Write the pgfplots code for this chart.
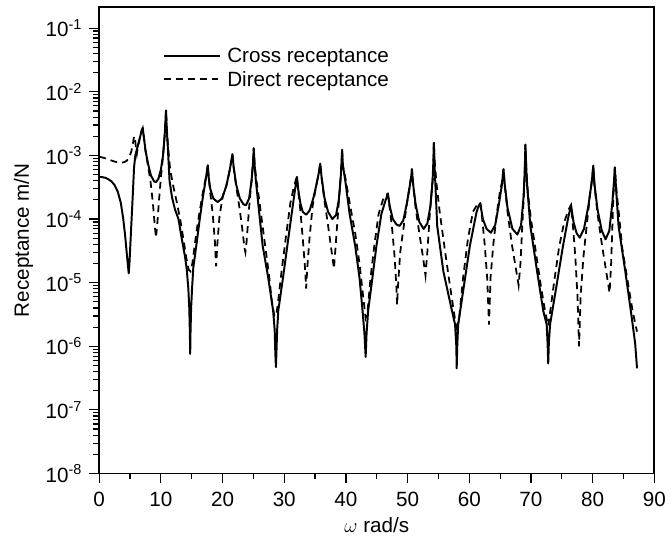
\documentclass[border=0pt]{standalone}
\usepackage{pgfplots}
\pgfplotsset{compat=1.18}
\usepackage{fontspec}
\setmainfont{Liberation Sans}

\pgfplotstableread{
w v
0.0 4.6e-4
0.5 4.55e-4
1.0 4.45e-4
1.5 4.2e-4
2.0 3.9e-4
2.5 3.4e-4
3.0 2.7e-4
3.5 1.8e-4
3.9 1.0e-4
4.2 5.5e-5
4.45 3e-5
4.65 1.9e-5
4.78 1.4e-5
4.9 2e-5
5.05 4e-5
5.25 1e-4
5.45 2.5e-4
5.65 6.5e-4
5.85 1e-3
6.2 1.35e-3
6.6 1.9e-3
6.9 2.5e-3
7.05 2.7e-3
7.25 1.9e-3
7.5 1.2e-3
7.9 7.5e-4
8.4 4.8e-4
8.9 3.9e-4
9.2 3.8e-4
9.6 4.3e-4
10.0 6e-4
10.35 1e-3
10.6 2e-3
10.75 3.6e-3
10.83 5.1e-3
10.95 2.6e-3
11.15 1.2e-3
11.4 4e-4
11.8 2.2e-4
12.3 1.4e-4
12.85 1e-4
13.4 4.8e-5
13.9 2.6e-5
14.2 1.6e-5
14.45 8e-6
14.6 4e-6
14.7 1.6e-6
14.75 7.6e-7
14.8 1.6e-6
14.9 4e-6
15.05 8e-6
15.25 1.7e-5
15.75 3.9e-5
16.3 1e-4
16.8 2.2e-4
17.2 3.8e-4
17.45 5.5e-4
17.6 7e-4
17.75 4.5e-4
18.0 3e-4
18.5 2.1e-4
19.2 1.85e-4
19.9 2.1e-4
20.6 3.3e-4
21.1 5.5e-4
21.45 8.5e-4
21.6 1.05e-3
21.8 6.5e-4
22.2 3.5e-4
22.8 2.1e-4
23.4 1.7e-4
23.8 1.65e-4
24.3 2.1e-4
24.7 4e-4
24.95 8e-4
25.05 1.3e-3
25.2 7e-4
25.4 4e-4
25.96 1.2e-4
26.5 3.8e-5
27.4 1.2e-5
28.2 3.6e-6
28.45 1.8e-6
28.55 8e-7
28.65 4.7e-7
28.75 9e-7
28.85 1.8e-6
29.03 3.6e-6
29.8 1.2e-5
30.5 3.8e-5
31.2 1.2e-4
31.6 2.3e-4
31.9 3.6e-4
32.06 4.6e-4
32.25 3e-4
32.6 1.8e-4
33.0 1.3e-4
33.55 1.17e-4
34.1 1.35e-4
34.7 2.1e-4
35.2 3.4e-4
35.6 5.3e-4
35.83 7.4e-4
36.05 4.6e-4
36.5 2.2e-4
37.1 1.3e-4
37.8 1e-4
38.4 1.15e-4
38.85 2e-4
39.15 4.5e-4
39.3 8e-4
39.38 1.23e-3
39.5 7e-4
39.9 4e-4
40.6 1.2e-4
41.5 3.8e-5
42.2 1.2e-5
42.7 3.6e-6
43.0 1.6e-6
43.2 6.8e-7
43.35 1.6e-6
43.6 3.6e-6
44.3 1.2e-5
44.95 3.8e-5
45.75 1.2e-4
46.3 1.8e-4
46.6 2.2e-4
46.8 2.5e-4
47.1 1.6e-4
47.6 1e-4
48.2 8.2e-5
48.7 7.8e-5
49.3 9.5e-5
49.9 1.8e-4
50.35 3.3e-4
50.6 4.8e-4
50.7 6.1e-4
50.9 3.5e-4
51.3 1.7e-4
51.9 9e-5
52.6 7e-5
53.2 8.5e-5
53.7 1.6e-4
54.05 4e-4
54.2 9e-4
54.25 1.58e-3
54.4 6e-4
54.8 7.8e-5
55.8 1.5e-5
57.2 3.6e-6
57.7 2.2e-6
57.9 1e-6
57.96 4.5e-7
58.05 1e-6
58.2 2.2e-6
59.0 7.3e-6
60.1 3.8e-5
61.15 1.25e-4
61.5 1.6e-4
61.78 1.78e-4
62.2 1e-4
62.8 7e-5
63.5 6.1e-5
64.2 8e-5
64.8 1.7e-4
65.3 3.5e-4
65.55 6.1e-4
65.75 3.5e-4
66.2 1.5e-4
67.0 7e-5
67.8 5.7e-5
68.4 8e-5
68.8 2.2e-4
69.0 6e-4
69.1 1.48e-3
69.25 6e-4
69.4 3.2e-4
69.9 7.8e-5
71.0 1.5e-5
72.0 3.6e-6
72.55 2.2e-6
72.7 1.1e-6
72.8 5.4e-7
72.9 1.1e-6
73.1 2.2e-6
74.15 9e-6
75.2 3.8e-5
76.0 1e-4
76.5 1.66e-4
76.9 9e-5
77.4 6e-5
77.9 5.1e-5
78.6 7e-5
79.3 1.6e-4
79.8 3.5e-4
80.0 5.2e-4
80.1 6.9e-4
80.3 3.5e-4
80.8 1.4e-4
81.5 6.5e-5
82.1 4.8e-5
82.7 6.5e-5
83.2 1.8e-4
83.45 3.8e-4
83.6 6.5e-4
83.8 3e-4
84.2 7.8e-5
85.3 1.5e-5
86.35 2.8e-6
86.9 1.1e-6
87.2 4.5e-7
}\crosstable

\pgfplotstableread{
w v
0.0 9.5e-4
0.5 9.3e-4
1.0 9e-4
1.5 8.6e-4
2.0 8.3e-4
2.5 8e-4
3.0 7.8e-4
3.5 7.7e-4
4.0 7.8e-4
4.5 8.3e-4
4.9 9.5e-4
5.2 1.15e-3
5.45 1.5e-3
5.65 2e-3
5.8 1.9e-3
5.95 1.3e-3
6.1 1.05e-3
6.3 1.4e-3
6.6 1.9e-3
6.9 2.5e-3
7.05 2.7e-3
7.25 1.9e-3
7.5 1.2e-3
7.9 7e-4
8.3 4e-4
8.7 1.8e-4
9.0 8e-5
9.2 5.1e-5
9.4 8e-5
9.7 2e-4
10.0 4.5e-4
10.35 1e-3
10.6 2e-3
10.75 3.6e-3
10.83 5.1e-3
10.95 2.8e-3
11.15 1.4e-3
11.5 6e-4
12.0 3.3e-4
12.6 1.8e-4
13.2 9e-5
13.7 4.5e-5
14.1 2.5e-5
14.5 1.6e-5
14.8 1.5e-5
15.1 2e-5
15.5 4e-5
16.0 9e-5
16.6 2e-4
17.0 3.3e-4
17.4 5e-4
17.6 7e-4
17.75 4.5e-4
18.0 2.6e-4
18.4 1.2e-4
18.75 4.5e-5
18.95 1.8e-5
19.15 4e-5
19.5 1.1e-4
20.0 2.2e-4
20.6 3.3e-4
21.1 5.5e-4
21.45 8.5e-4
21.6 1.05e-3
21.8 6.5e-4
22.2 3.3e-4
22.7 1.6e-4
23.2 7e-5
23.55 3.5e-5
23.7 3e-5
23.9 4.5e-5
24.3 1.5e-4
24.7 4e-4
24.95 8e-4
25.05 1.3e-3
25.2 7e-4
25.5 4e-4
26.0 1.8e-4
26.9 3.8e-5
27.5 1.4e-5
28.0 5e-6
28.4 3e-6
28.7 3e-6
29.0 5e-6
29.6 1.6e-5
30.3 5.5e-5
31.0 1.8e-4
31.5 3e-4
31.9 4.2e-4
32.06 4.6e-4
32.25 2.8e-4
32.6 1.4e-4
33.0 5e-5
33.35 1.8e-5
33.55 8.1e-6
33.75 1.8e-5
34.1 5e-5
34.6 1.6e-4
35.2 3.4e-4
35.6 5.3e-4
35.83 7.4e-4
36.05 4.5e-4
36.5 2e-4
37.1 8e-5
37.7 3e-5
38.06 1.66e-5
38.35 4e-5
38.8 1.6e-4
39.15 4.5e-4
39.3 8e-4
39.38 1.23e-3
39.5 7e-4
39.9 4.5e-4
40.6 1.8e-4
41.5 6e-5
42.2 2e-5
42.8 6e-6
43.2 2.8e-6
43.5 3.5e-6
44.0 1.2e-5
44.6 3.8e-5
45.3 1.2e-4
46.0 2e-4
46.5 2.4e-4
46.8 2.5e-4
47.1 1.5e-4
47.5 7e-5
47.9 2.5e-5
48.2 8e-6
48.3 4.5e-6
48.45 9e-6
48.8 3e-5
49.4 8e-5
49.9 1.8e-4
50.35 3.3e-4
50.6 4.8e-4
50.7 6.1e-4
50.9 3.4e-4
51.3 1.5e-4
51.9 6e-5
52.5 2.5e-5
52.9 1.3e-5
53.2 3e-5
53.6 1.2e-4
54.05 4e-4
54.2 9e-4
54.25 1.58e-3
54.4 8e-4
54.7 3.5e-4
55.2 1.3e-4
56.0 3.5e-5
56.8 1e-5
57.5 3.5e-6
58.0 1.7e-6
58.4 3e-6
59.0 1.2e-5
59.8 5e-5
60.6 1.3e-4
61.3 1.7e-4
61.78 1.78e-4
62.1 1e-4
62.5 4e-5
62.9 1.2e-5
63.2 2.2e-6
63.45 1.2e-5
63.9 4e-5
64.5 1.3e-4
65.0 2.8e-4
65.3 3.8e-4
65.55 6.1e-4
65.75 3.4e-4
66.2 1.3e-4
66.9 4e-5
67.5 1.8e-5
68.0 9.1e-6
68.3 2e-5
68.6 8e-5
68.9 3e-4
69.0 6e-4
69.1 1.48e-3
69.25 6e-4
69.5 2.6e-4
70.0 1e-4
70.8 3e-5
71.6 9e-6
72.3 3.5e-6
72.8 2.1e-6
73.2 4e-6
73.8 1.1e-5
74.6 3.8e-5
75.4 9e-5
76.1 1.4e-4
76.5 1.66e-4
76.8 8e-5
77.2 2.5e-5
77.55 6e-6
77.8 1e-6
78.05 6e-6
78.5 2.5e-5
79.1 9e-5
79.6 2.5e-4
79.9 4.2e-4
80.1 6.9e-4
80.3 3.4e-4
80.8 1.2e-4
81.5 4e-5
82.2 1.5e-5
82.75 6.9e-6
83.0 2e-5
83.3 1.5e-4
83.45 3.5e-4
83.6 6.5e-4
83.8 3.3e-4
84.3 1.1e-4
84.8 3.5e-5
85.8 9e-6
86.5 3.5e-6
87.2 1.7e-6
}\directtable

\begin{document}
\begin{tikzpicture}
\begin{axis}[
  scale only axis,
  width=565pt, height=475pt,
  xmin=0, xmax=90,
  ymode=log, ymin=1e-8, ymax=0.216,
  axis line style={line width=1.8pt},
  tick align=outside,
  xtick pos=bottom, ytick pos=left,
  xtick={0,10,...,90},
  minor xtick={5,15,...,85},
  ytick={1e-8,1e-7,1e-6,1e-5,1e-4,1e-3,1e-2,1e-1},
  minor ytick={2e-8,3e-8,4e-8,5e-8,6e-8,7e-8,8e-8,9e-8,
               2e-7,3e-7,4e-7,5e-7,6e-7,7e-7,8e-7,9e-7,
               2e-6,3e-6,4e-6,5e-6,6e-6,7e-6,8e-6,9e-6,
               2e-5,3e-5,4e-5,5e-5,6e-5,7e-5,8e-5,9e-5,
               2e-4,3e-4,4e-4,5e-4,6e-4,7e-4,8e-4,9e-4,
               2e-3,3e-3,4e-3,5e-3,6e-3,7e-3,8e-3,9e-3,
               2e-2,3e-2,4e-2,5e-2,6e-2,7e-2,8e-2,9e-2},
  yticklabels={10\textsuperscript{-8},10\textsuperscript{-7},10\textsuperscript{-6},10\textsuperscript{-5},10\textsuperscript{-4},10\textsuperscript{-3},10\textsuperscript{-2},10\textsuperscript{-1}},
  xticklabels={0,10,20,30,40,50,60,70,80,90},
  major tick length=10pt, minor tick length=6pt,
  every tick/.style={black, line width=1.2pt},
  tick label style={font=\fontsize{21}{24}\selectfont},
  xticklabel style={yshift=-16pt, anchor=center},
  yticklabel style={xshift=-4pt},
  label style={font=\fontsize{21}{24}\selectfont},
  xlabel={$\omega$ rad/s},
  ylabel={Receptance m/N},
  xlabel style={at={(axis description cs:0.5,0)}, anchor=center, yshift=-53pt},
  ylabel style={yshift=6pt},
  legend style={draw=none, fill=none, at={(0.11,0.92)}, anchor=north west,
     font=\fontsize{21}{24}\selectfont, row sep=3pt,
     nodes={inner xsep=6pt, inner ysep=2pt}},
  legend cell align=left,
  legend image code/.code={\draw[#1] (0pt,0pt) -- (57pt,0pt);},
]
\addplot[black, line width=2pt, line join=round] table[x=w,y=v] {\crosstable};
\addlegendentry{Cross receptance}
\addplot[black, line width=1.8pt, dash pattern=on 7pt off 5pt] table[x=w,y=v] {\directtable};
\addlegendentry{Direct receptance}
\end{axis}
\pgfresetboundingbox
\path (-101pt,-66pt) rectangle (582pt,482pt);
\end{tikzpicture}
\end{document}
